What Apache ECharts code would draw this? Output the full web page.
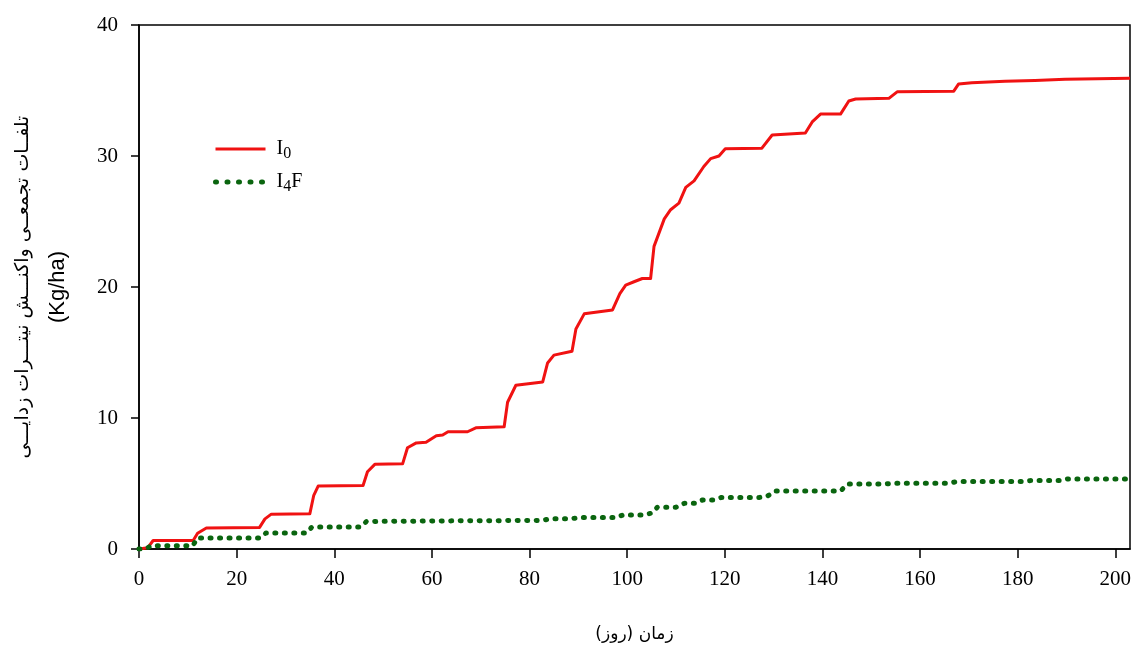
<!DOCTYPE html>
<html>
<head>
<meta charset="utf-8">
<script src="https://cdn.jsdelivr.net/npm/echarts@6/dist/echarts.min.js"></script>
<style>
  html, body { margin: 0; padding: 0; background: #fff; }
  #divChart { width: 1135px; height: 648px; }
</style>
</head>
<body>
<div id="divChart"></div>
<script>
// x ticks shown on the axis
let xTicks = [0, 20, 40, 60, 80, 100, 120, 140, 160, 180, 200];

// I0 : days / cumulative loss (Kg/ha)
let i0Days = [0, 1.8, 2.9, 11.1, 12, 13.8, 24.7, 25.8, 27.1, 35, 35.8, 36.7, 45.9, 46.8, 48.3,
    54, 55, 56.8, 58.8, 60.9, 62.2, 63.3, 67.3, 69, 74.8, 75.5, 77.2, 82.7, 83.7, 85,
    88.7, 89.5, 91.2, 97, 98.5, 99.7, 101.4, 103.1, 104.8, 105.5, 107.6, 108.9, 110.6, 112, 113.7,
    115.7, 117.1, 118.8, 120.1, 127.6, 129.7, 136.5, 137.9, 139.6, 143.7, 145.4, 146.8, 153.6, 155.3, 166.9,
    167.9, 170.6, 177.4, 183.5, 189.7, 203];
let i0Values = [0, 0.1, 0.65, 0.65, 1.2, 1.6, 1.65, 2.3, 2.66, 2.7, 4.1, 4.8, 4.85, 5.9, 6.46,
    6.5, 7.73, 8.1, 8.15, 8.65, 8.7, 8.95, 8.95, 9.25, 9.33, 11.2, 12.5, 12.75, 14.2, 14.8,
    15.1, 16.8, 17.95, 18.25, 19.5, 20.15, 20.4, 20.65, 20.65, 23.1, 25.2, 25.9, 26.4, 27.6, 28.1,
    29.2, 29.8, 30.0, 30.55, 30.6, 31.6, 31.75, 32.6, 33.2, 33.2, 34.2, 34.35, 34.4, 34.9, 34.95,
    35.5, 35.6, 35.7, 35.76, 35.85, 35.93];

// I4F
let i4fDays = [0, 1.5, 2.5, 11, 12, 24.7, 26, 34.3, 35.4, 45.2, 46.6, 65, 82.7, 84, 88.5,
    90, 97.7, 99.2, 103.5, 105, 106.2, 110, 111.8, 114, 115.5, 117.6, 119.3, 127, 128.7, 130.4,
    143.7, 145.2, 152.9, 154.6, 165.8, 167.6, 180.8, 182.6, 188.7, 190.2, 203];
let i4fValues = [0, 0.05, 0.25, 0.25, 0.84, 0.84, 1.22, 1.22, 1.67, 1.67, 2.1, 2.15, 2.18, 2.3, 2.3,
    2.4, 2.4, 2.6, 2.6, 2.74, 3.19, 3.19, 3.5, 3.5, 3.75, 3.75, 3.93, 3.93, 4.03, 4.43,
    4.43, 4.97, 4.97, 5.02, 5.02, 5.15, 5.15, 5.22, 5.22, 5.35, 5.35];

function toPairs(xs, ys) {
    let out = [];
    for (let i = 0; i < xs.length; i++) {
        out.push([xs[i], ys[i]]);
    }
    return out;
}

let serif = "'Liberation Serif', 'Times New Roman', serif";

let myChart = echarts.init(document.getElementById('divChart'), null, {renderer: 'canvas'});

let option = {
    animation: false,
    backgroundColor: '#fff',
    grid: {
        left: 139,
        right: 5,
        top: 25,
        bottom: 97,
        show: true,
        borderColor: '#000',
        borderWidth: 1.5,
        backgroundColor: 'transparent'
    },
    legend: {
        orient: 'vertical',
        left: 208,
        top: 134,
        itemWidth: 50,
        itemHeight: 14,
        itemGap: 10,
        data: [
            {name: 'I0', lineStyle: {width: 3}},
            {name: 'I4F', lineStyle: {width: 5, type: [1, 10.5], cap: 'round'}}
        ],
        // hide the circle ECharts adds to line legend icons
        itemStyle: {opacity: 0},
        formatter: function (name) {
            return name === 'I0' ? '{n|I}{s|0}' : '{n|I}{s|4}{n|F}';
        },
        textStyle: {
            padding: [0, 0, 0, 6],
            rich: {
                n: {fontFamily: serif, fontSize: 20, color: '#000'},
                s: {fontFamily: serif, fontSize: 16, color: '#000', padding: [10, 0, 0, 0]}
            }
        }
    },
    xAxis: {
        type: 'value',
        min: 0,
        max: 203,
        interval: 20,
        name: '\u200Fزمان (روز)\u200F',
        nameLocation: 'middle',
        nameGap: 77,
        nameTextStyle: {fontFamily: "'DejaVu Sans', sans-serif", fontSize: 17, color: '#000'},
        axisLine: {show: true, onZero: false, lineStyle: {color: '#000', width: 1.5}},
        axisTick: {show: true, length: 9, lineStyle: {color: '#000', width: 1.5}, customValues: xTicks},
        axisLabel: {fontFamily: serif, fontSize: 21, color: '#000', margin: 20, customValues: xTicks},
        splitLine: {show: false}
    },
    yAxis: {
        type: 'value',
        min: 0,
        max: 40,
        interval: 10,
        name: '{fa|تلفــات تجمعــی واکنـــش نیتـــرات زدایـــی}\n{en|(Kg/ha)}',
        nameLocation: 'middle',
        nameGap: 66,
        nameRotate: 90,
        nameTextStyle: {
            rich: {
                fa: {fontFamily: "'DejaVu Sans', sans-serif", fontSize: 19, color: '#000', lineHeight: 40},
                en: {fontFamily: "'Liberation Sans', Arial, sans-serif", fontSize: 22, color: '#000', lineHeight: 30}
            }
        },
        axisLine: {show: true, lineStyle: {color: '#000', width: 1.5}},
        axisTick: {show: true, length: 8, lineStyle: {color: '#000', width: 1.5}},
        axisLabel: {fontFamily: serif, fontSize: 21, color: '#000', margin: 21},
        splitLine: {show: false}
    },
    series: [
        {
            name: 'I0',
            type: 'line',
            symbol: 'none',
            showSymbol: false,
            smooth: false,
            lineStyle: {color: '#f01212', width: 3, join: 'round'},
            itemStyle: {color: '#f01212'},
            data: toPairs(i0Days, i0Values)
        },
        {
            name: 'I4F',
            type: 'line',
            symbol: 'none',
            showSymbol: false,
            smooth: false,
            lineStyle: {color: '#0a650f', width: 5, type: [1, 8.5], cap: 'round'},
            itemStyle: {color: '#0a650f'},
            data: toPairs(i4fDays, i4fValues)
        }
    ]
};

myChart.setOption(option);
</script>
</body>
</html>
